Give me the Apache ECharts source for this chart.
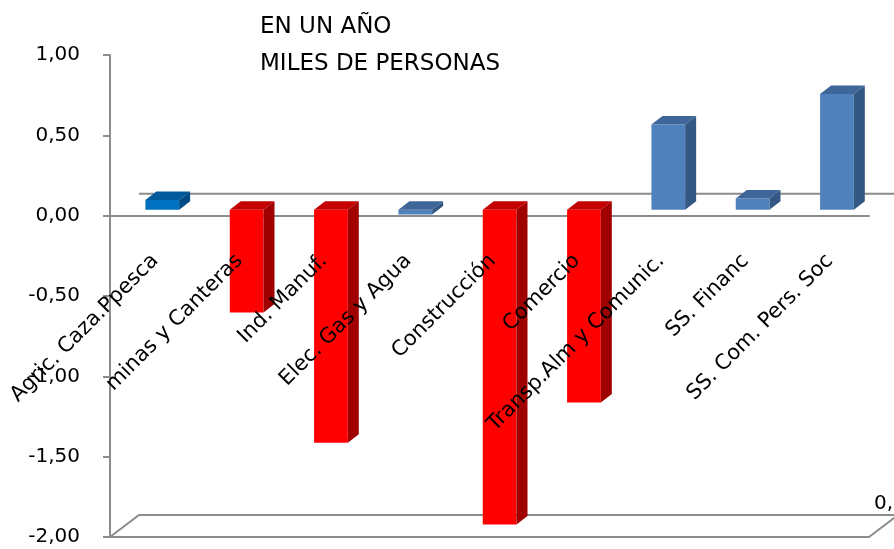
<!DOCTYPE html>
<html>
<head>
<meta charset="utf-8">
<script src="https://cdn.jsdelivr.net/npm/echarts@6/dist/echarts.min.js"></script>
<style>
  html, body { margin: 0; padding: 0; background: #fff; }
  #chart { width: 894px; height: 549px; }
</style>
</head>
<body>
<div id="chart"></div>
<script>
// 类目（行业）
var categories = ['Agric. Caza.Ppesca', 'minas y Canteras', 'Ind. Manuf.', 'Elec. Gas y Agua',
    'Construcción', 'Comercio', 'Transp.Alm y Comunic.', 'SS. Financ', 'SS. Com. Pers. Soc'];
// 变化值（千人）
var values = [0.06, -0.64, -1.45, -0.03, -1.96, -1.20, 0.53, 0.07, 0.72];
// Y轴刻度
var yTicks = [-2, -1.5, -1, -0.5, 0, 0.5, 1];
var titleLines = ['EN UN AÑO', 'MILES DE PERSONAS'];

// 每根柱子的颜色组（正面 / 顶面 / 侧面）
var tones = {
    bright: ['#0070c0', '#005a9c', '#004a85'],
    blue: ['#4f81bd', '#3e6699', '#345884'],
    red: ['#ff0000', '#c40000', '#a00000']
};
var barTone = ['bright', 'red', 'red', 'blue', 'red', 'red', 'blue', 'blue', 'blue'];

var chart = echarts.init(document.getElementById('chart'));
var axisGray = '#8c8c8c';
var fontFamily = '"DejaVu Sans", sans-serif';
var gridTop = 55, gridHeight = 482;
var yMin = yTicks[0], yMax = yTicks[yTicks.length - 1];
// 零线到底边的距离（标签轴上移用）
var zeroOffset = gridHeight * (0 - yMin) / (yMax - yMin);

// 伪3D柱子
function renderBar(params, api) {
    var idx = api.value(0);
    var base = api.coord([idx, 0]);
    var tip = api.coord([idx, api.value(1)]);
    var band = api.size([1, 0])[0];
    var w = band * 0.4;
    var x0 = base[0] + band * 0.12 - w / 2;
    var shiftY = -6;
    var dx = 11, dy = -8.5;
    var yTop = Math.min(base[1], tip[1]) + shiftY;
    var yBot = Math.max(base[1], tip[1]) + shiftY;
    var c = tones[barTone[idx]];
    return {
        type: 'group',
        children: [{
            type: 'rect',
            shape: { x: x0, y: yTop, width: w, height: yBot - yTop },
            style: { fill: c[0] }
        }, {
            type: 'polygon',
            shape: { points: [[x0, yTop], [x0 + w, yTop], [x0 + w + dx, yTop + dy], [x0 + dx, yTop + dy]] },
            style: { fill: c[1] }
        }, {
            type: 'polygon',
            shape: { points: [[x0 + w, yTop], [x0 + w + dx, yTop + dy], [x0 + w + dx, yBot + dy], [x0 + w, yBot]] },
            style: { fill: c[2] }
        }]
    };
}

// 背墙零线与底面
function renderFrame(params, api) {
    var band = api.size([1, 0])[0];
    var left = api.coord([0, 0])[0] - band / 2;
    var right = api.coord([categories.length - 1, 0])[0] + band / 2;
    var zy = api.coord([0, 0])[1];
    var by = api.coord([0, yMin])[1];
    var dx = 29, dy = -22;
    var line = { stroke: axisGray, lineWidth: 2, fill: null };
    return {
        type: 'group',
        children: [{
            type: 'line',
            shape: { x1: left + dx, y1: zy + dy, x2: right + dx + 10, y2: zy + dy },
            style: line
        }, {
            type: 'polygon',
            shape: { points: [[left, by], [left + dx, by + dy], [right + dx, by + dy], [right, by]] },
            style: line
        }]
    };
}

var option = {
    animation: false,
    backgroundColor: '#fff',
    title: {
        text: titleLines.join('\n'),
        left: 255,
        top: 4,
        textStyle: {
            fontFamily: fontFamily,
            fontSize: 23,
            fontWeight: 'normal',
            color: '#000',
            lineHeight: 37
        }
    },
    grid: [{
        left: 110, top: gridTop, width: 759, height: gridHeight,
        outerBoundsMode: 'none', containLabel: false
    }, {
        left: 113, top: gridTop, width: 759, height: gridHeight,
        outerBoundsMode: 'none', containLabel: false
    }],
    xAxis: [{
        type: 'category',
        gridIndex: 0,
        data: categories,
        axisLine: { lineStyle: { color: axisGray, width: 2 } },
        axisTick: { length: 7, lineStyle: { color: axisGray, width: 2 } },
        axisLabel: { show: false }
    }, {
        type: 'category',
        gridIndex: 1,
        data: categories,
        position: 'bottom',
        offset: -zeroOffset,
        z: 10,
        axisLine: { show: false, onZero: false },
        axisTick: { show: false },
        axisLabel: {
            show: true,
            interval: 0,
            rotate: 45,
            margin: 42,
            fontFamily: fontFamily,
            fontSize: 21,
            color: '#000'
        }
    }],
    yAxis: [{
        type: 'value',
        gridIndex: 0,
        min: yMin,
        max: yMax,
        interval: 0.5,
        axisLine: { show: true, lineStyle: { color: axisGray, width: 2 } },
        axisTick: { show: true, length: 7, lineStyle: { color: axisGray, width: 2 } },
        splitLine: { show: false },
        axisLabel: {
            margin: 30,
            fontFamily: fontFamily,
            fontSize: 20,
            color: '#000',
            formatter: function (v) { return v.toFixed(2).replace('.', ','); }
        }
    }, {
        type: 'value',
        gridIndex: 1,
        min: yMin,
        max: yMax,
        axisLine: { show: false },
        axisTick: { show: false },
        axisLabel: { show: false },
        splitLine: { show: false }
    }],
    graphic: [{
        type: 'text',
        left: 874,
        top: 494,
        style: { text: '0,', fontFamily: fontFamily, fontSize: 20, fill: '#000' }
    }],
    series: [{
        type: 'custom',
        name: 'frame',
        silent: true,
        z: 1,
        xAxisIndex: 0,
        yAxisIndex: 0,
        renderItem: renderFrame,
        data: [[0, 0]]
    }, {
        type: 'custom',
        name: 'EN UN AÑO',
        z: 2,
        xAxisIndex: 0,
        yAxisIndex: 0,
        renderItem: renderBar,
        data: values.map(function (v, i) { return [i, v]; })
    }]
};

chart.setOption(option);
window.addEventListener('resize', function () {
    chart.resize();
});
</script>
</body>
</html>
